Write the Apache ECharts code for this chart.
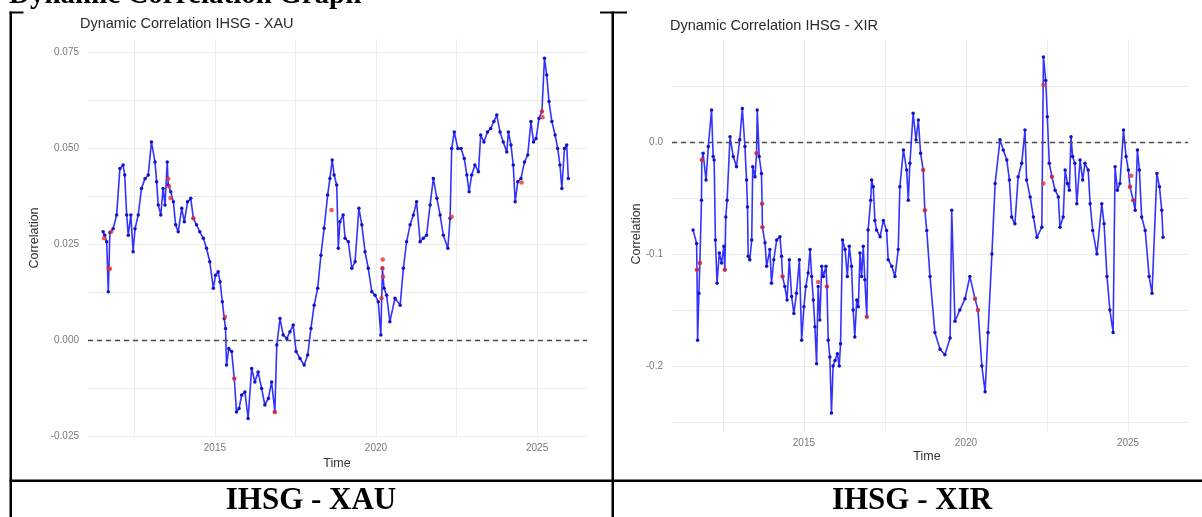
<!DOCTYPE html>
<html>
<head>
<meta charset="utf-8">
<script src="https://cdn.jsdelivr.net/npm/echarts@6.0.0/dist/echarts.min.js"></script>
<style>
html, body { margin: 0; padding: 0; background: #fff; }
#chart { width: 1202px; height: 517px; }
</style>
</head>
<body>
<div id="chart"></div>
<script>
// IHSG - XAU dynamic correlation (decimal years)
const xauYears = [
  2011.53, 2011.58, 2011.64, 2011.69, 2011.71, 2011.74, 2011.84, 2011.95, 2012.05, 2012.15,
  2012.20, 2012.26, 2012.31, 2012.39, 2012.46, 2012.52, 2012.62, 2012.72, 2012.83, 2012.93,
  2013.03, 2013.14, 2013.19, 2013.24, 2013.32, 2013.39, 2013.45, 2013.52, 2013.55, 2013.63,
  2013.71, 2013.78, 2013.86, 2013.97, 2014.05, 2014.15, 2014.25, 2014.33, 2014.43, 2014.53,
  2014.64, 2014.74, 2014.84, 2014.95, 2015.02, 2015.10, 2015.16, 2015.23, 2015.29, 2015.33,
  2015.36, 2015.43, 2015.52, 2015.60, 2015.67, 2015.75, 2015.83, 2015.93, 2016.03, 2016.14,
  2016.24, 2016.34, 2016.45, 2016.55, 2016.66, 2016.76, 2016.86, 2016.92, 2017.02, 2017.12,
  2017.23, 2017.33, 2017.43, 2017.52, 2017.64, 2017.77, 2017.88, 2017.98, 2018.08, 2018.19,
  2018.29, 2018.39, 2018.50, 2018.57, 2018.64, 2018.70, 2018.78, 2018.83, 2018.88, 2018.98,
  2019.04, 2019.14, 2019.25, 2019.35, 2019.47, 2019.56, 2019.66, 2019.76, 2019.87, 2019.97,
  2020.07, 2020.15, 2020.20, 2020.25, 2020.33, 2020.43, 2020.59, 2020.75, 2020.85, 2020.95,
  2021.06, 2021.16, 2021.26, 2021.37, 2021.47, 2021.57, 2021.68, 2021.78, 2021.89, 2021.99,
  2022.09, 2022.23, 2022.30, 2022.35, 2022.43, 2022.54, 2022.64, 2022.74, 2022.82, 2022.89,
  2022.97, 2023.07, 2023.18, 2023.25, 2023.35, 2023.46, 2023.56, 2023.66, 2023.75, 2023.85,
  2023.95, 2024.06, 2024.11, 2024.19, 2024.26, 2024.32, 2024.40, 2024.50, 2024.61, 2024.71,
  2024.81, 2024.89, 2024.97, 2025.06, 2025.15, 2025.23, 2025.30, 2025.37, 2025.46, 2025.56,
  2025.64, 2025.71, 2025.77, 2025.85, 2025.92, 2025.97
]
const xauCorr = [
  0.0282, 0.0273, 0.0256, 0.0126, 0.0186, 0.0280, 0.0290, 0.0326, 0.0447, 0.0456,
  0.0430, 0.0326, 0.0273, 0.0326, 0.0230, 0.0290, 0.0326, 0.0395, 0.0420, 0.0430,
  0.0516, 0.0464, 0.0412, 0.0352, 0.0326, 0.0395, 0.0352, 0.0464, 0.0404, 0.0386,
  0.0360, 0.0300, 0.0282, 0.0343, 0.0308, 0.0360, 0.0369, 0.0317, 0.0300, 0.0282,
  0.0265, 0.0239, 0.0204, 0.0135, 0.0169, 0.0178, 0.0152, 0.0100, 0.0056, 0.0030,
  -0.0065, -0.0022, -0.0030, -0.0100, -0.0187, -0.0178, -0.0143, -0.0135, -0.0204, -0.0074,
  -0.0109, -0.0083, -0.0126, -0.0169, -0.0152, -0.0109, -0.0187, -0.0013, 0.0056, 0.0013,
  0.0004, 0.0022, 0.0039, -0.0030, -0.0048, -0.0065, -0.0039, 0.0030, 0.0091, 0.0135,
  0.0221, 0.0291, 0.0378, 0.0421, 0.0469, 0.0430, 0.0404, 0.0239, 0.0308, 0.0326,
  0.0265, 0.0256, 0.0187, 0.0204, 0.0343, 0.0300, 0.0230, 0.0187, 0.0126, 0.0117,
  0.0100, 0.0013, 0.0187, 0.0135, 0.0117, 0.0048, 0.0109, 0.0091, 0.0187, 0.0256,
  0.0300, 0.0326, 0.0360, 0.0256, 0.0265, 0.0273, 0.0352, 0.0421, 0.0369, 0.0326,
  0.0273, 0.0239, 0.0317, 0.0499, 0.0542, 0.0499, 0.0499, 0.0473, 0.0430, 0.0386,
  0.0430, 0.0456, 0.0438, 0.0534, 0.0516, 0.0542, 0.0551, 0.0569, 0.0586, 0.0542,
  0.0516, 0.0490, 0.0542, 0.0508, 0.0456, 0.0360, 0.0412, 0.0421, 0.0464, 0.0482,
  0.0569, 0.0516, 0.0525, 0.0577, 0.0595, 0.0734, 0.0690, 0.0621, 0.0569, 0.0534,
  0.0499, 0.0456, 0.0395, 0.0499, 0.0508, 0.0421
]
const xauRedYears = [2011.56, 2011.70, 2011.74, 2011.78, 2013.55, 2013.58, 2013.62, 2014.33, 2015.31, 2015.60,
  2016.86, 2018.62, 2020.17, 2020.20, 2020.21, 2020.22, 2022.35, 2024.52, 2025.15, 2025.17]
const xauRedCorr = [0.0265, 0.0186, 0.0186, 0.0282, 0.0420, 0.0400, 0.0370, 0.0317, 0.0061, -0.0100,
  -0.0187, 0.0339, 0.0109, 0.0187, 0.0210, 0.0165, 0.0321, 0.0410, 0.0595, 0.0580]

// IHSG - XIR dynamic correlation
const xirYears = [
  2011.58, 2011.69, 2011.70, 2011.72, 2011.76, 2011.79, 2011.84, 2011.85, 2011.89, 2011.98,
  2012.05, 2012.15, 2012.20, 2012.23, 2012.27, 2012.32, 2012.39, 2012.46, 2012.53, 2012.56,
  2012.59, 2012.63, 2012.72, 2012.82, 2012.92, 2013.02, 2013.10, 2013.18, 2013.23, 2013.26,
  2013.28, 2013.33, 2013.39, 2013.42, 2013.49, 2013.54, 2013.56, 2013.62, 2013.69, 2013.71,
  2013.72, 2013.80, 2013.85, 2013.95, 2014.00, 2014.07, 2014.16, 2014.26, 2014.31, 2014.34,
  2014.41, 2014.48, 2014.55, 2014.62, 2014.69, 2014.77, 2014.86, 2014.93, 2015.00, 2015.06,
  2015.13, 2015.19, 2015.24, 2015.29, 2015.34, 2015.39, 2015.44, 2015.49, 2015.55, 2015.60,
  2015.68, 2015.71, 2015.75, 2015.80, 2015.85, 2015.90, 2015.96, 2016.03, 2016.09, 2016.13,
  2016.19, 2016.27, 2016.34, 2016.40, 2016.47, 2016.52, 2016.57, 2016.63, 2016.68, 2016.73,
  2016.78, 2016.83, 2016.88, 2016.94, 2016.98, 2017.06, 2017.09, 2017.14, 2017.19, 2017.24,
  2017.35, 2017.45, 2017.55, 2017.60, 2017.71, 2017.81, 2017.91, 2017.96, 2018.07, 2018.17,
  2018.22, 2018.27, 2018.37, 2018.46, 2018.53, 2018.60, 2018.68, 2018.73, 2018.79, 2018.89,
  2019.04, 2019.20, 2019.35, 2019.51, 2019.56, 2019.66, 2019.81, 2019.97, 2020.12, 2020.28,
  2020.37, 2020.49, 2020.59, 2020.68, 2020.80, 2020.90, 2021.05, 2021.15, 2021.26, 2021.34,
  2021.41, 2021.51, 2021.61, 2021.72, 2021.82, 2021.87, 2021.98, 2022.08, 2022.19, 2022.34,
  2022.39, 2022.46, 2022.51, 2022.57, 2022.65, 2022.75, 2022.85, 2022.90, 2023.00, 2023.06,
  2023.13, 2023.19, 2023.24, 2023.29, 2023.36, 2023.42, 2023.52, 2023.60, 2023.67, 2023.77,
  2023.83, 2023.91, 2024.04, 2024.19, 2024.26, 2024.35, 2024.44, 2024.54, 2024.60, 2024.67,
  2024.75, 2024.86, 2024.94, 2025.01, 2025.06, 2025.16, 2025.22, 2025.29, 2025.35, 2025.42,
  2025.53, 2025.65, 2025.74, 2025.89, 2025.97, 2026.04, 2026.08
]
const xirCorr = [
  -0.0786, -0.0905, -0.114, -0.177, -0.135, -0.108, -0.052, -0.016, -0.010, -0.034,
  -0.004, 0.0286, -0.013, -0.016, -0.0875, -0.126, -0.099, -0.108, -0.093, -0.114,
  -0.067, -0.052, 0.0048, -0.013, -0.022, 0.002, 0.030, -0.004, -0.034, -0.058,
  -0.102, -0.105, -0.0875, -0.022, -0.031, -0.010, 0.0286, -0.013, -0.028, -0.055,
  -0.076, -0.090, -0.111, -0.096, -0.126, -0.105, -0.0875, -0.0845, -0.102, -0.120,
  -0.129, -0.141, -0.105, -0.138, -0.153, -0.135, -0.105, -0.177, -0.147, -0.129,
  -0.117, -0.096, -0.120, -0.141, -0.165, -0.198, -0.129, -0.159, -0.111, -0.120,
  -0.111, -0.129, -0.177, -0.192, -0.242, -0.200, -0.195, -0.189, -0.200, -0.180,
  -0.0875, -0.096, -0.120, -0.093, -0.111, -0.150, -0.174, -0.141, -0.147, -0.099,
  -0.120, -0.093, -0.123, -0.156, -0.0786, -0.052, -0.034, -0.040, -0.070, -0.0786,
  -0.0845, -0.070, -0.079, -0.105, -0.111, -0.120, -0.096, -0.040, -0.007, -0.025,
  -0.052, -0.019, 0.0256, 0.0018, 0.0196, -0.010, -0.025, -0.061, -0.079, -0.120,
  -0.170, -0.185, -0.190, -0.175, -0.061, -0.160, -0.150, -0.140, -0.120, -0.140,
  -0.150, -0.200, -0.223, -0.170, -0.100, -0.037, 0.002, -0.007, -0.016, -0.034,
  -0.067, -0.073, -0.031, -0.019, 0.0107, -0.034, -0.049, -0.067, -0.085, -0.076,
  0.076, 0.055, 0.0226, -0.019, -0.031, -0.043, -0.049, -0.076, -0.067, -0.025,
  -0.037, -0.043, 0.0048, -0.013, -0.019, -0.055, -0.016, -0.034, -0.019, -0.025,
  -0.055, -0.079, -0.100, -0.055, -0.073, -0.120, -0.150, -0.170, -0.022, -0.043,
  -0.037, 0.0107, -0.013, -0.025, -0.040, -0.052, -0.061, -0.007, -0.025, -0.067,
  -0.079, -0.120, -0.135, -0.028, -0.040, -0.061, -0.085
]
const xirRedYears = [2011.70, 2011.79, 2011.85, 2012.56, 2013.54, 2013.71, 2013.72, 2014.34, 2015.44, 2015.71,
  2016.94, 2018.68, 2018.73, 2020.28, 2020.37, 2022.39, 2022.39, 2022.65, 2025.06, 2025.10, 2025.16]
const xirRedCorr = [-0.114, -0.108, -0.016, -0.114, -0.010, -0.055, -0.076, -0.120, -0.125, -0.129,
  -0.156, -0.025, -0.061, -0.140, -0.150, 0.051, -0.037, -0.031, -0.040, -0.030, -0.052]

// axis ticks and grid positions
const yearTicks = [2015, 2020, 2025]
const yearGrid = [2012.5, 2015, 2017.5, 2020, 2022.5, 2025]
const xauTicks = [-0.025, 0, 0.025, 0.05, 0.075]
const xauGrid = [-0.025, -0.0125, 0, 0.0125, 0.025, 0.0375, 0.05, 0.0625, 0.075]
const xirTicks = [-0.2, -0.1, 0]
const xirGrid = [-0.25, -0.2, -0.15, -0.1, -0.05, 0, 0.05]

const sans = '"Liberation Sans", Arial, sans-serif'
const serif = '"Liberation Serif", "Times New Roman", serif'
const gridColor = '#ededed'
const tickColor = '#7a7a7a'

function pairs(xs, ys) {
  return xs.map((x, i) => [x, ys[i]])
}

function xAxis(gridIndex, min, max, margin) {
  return {
    type: 'value', gridIndex, min, max,
    axisLine: { show: false },
    axisTick: { show: false, customValues: yearGrid },
    axisLabel: { customValues: yearTicks, margin, color: tickColor, fontSize: 10, fontFamily: sans, formatter: v => String(v) },
    splitLine: { show: true, lineStyle: { color: gridColor, width: 1 } }
  }
}

function yAxis(gridIndex, min, max, ticks, grid, digits) {
  return {
    type: 'value', gridIndex, min, max,
    axisLine: { show: false },
    axisTick: { show: false, customValues: grid },
    axisLabel: { customValues: ticks, margin: 9, color: tickColor, fontSize: 10, fontFamily: sans, formatter: v => v.toFixed(digits) },
    splitLine: { show: true, lineStyle: { color: gridColor, width: 1 } }
  }
}

function corrSeries(idx, data) {
  return {
    type: 'line', xAxisIndex: idx, yAxisIndex: idx, data,
    symbol: 'circle', symbolSize: 3.5, showSymbol: true,
    lineStyle: { color: '#3333ff', width: 1.6 },
    itemStyle: { color: '#1212c8' },
    z: 3,
    markLine: {
      silent: true, symbol: ['none', 'none'], label: { show: false },
      lineStyle: { type: [5, 4], color: '#4a4a4a', width: 1.3 },
      data: [{ yAxis: 0 }]
    }
  }
}

function redSeries(idx, data) {
  return {
    type: 'scatter', xAxisIndex: idx, yAxisIndex: idx, data,
    symbolSize: 4.5, itemStyle: { color: '#e8322f' }, z: 4
  }
}

function label(text, x, y, opts) {
  return Object.assign({
    type: 'text', x, y, silent: true,
    style: Object.assign({
      text, fill: '#333', fontFamily: sans, fontSize: 12.5,
      align: 'center', verticalAlign: 'middle', textAlign: 'center', textVerticalAlign: 'middle'
    }, opts && opts.style)
  }, opts && opts.el)
}

function bar(x, y, w, h) {
  return { type: 'rect', silent: true, shape: { x, y, width: w, height: h }, style: { fill: '#000' } }
}

const chart = echarts.init(document.getElementById('chart'))
chart.setOption({
  animation: false,
  backgroundColor: '#fff',
  grid: [
    { left: 88, top: 39, width: 499, height: 399 },
    { left: 672, top: 39, width: 516, height: 392 }
  ],
  xAxis: [
    xAxis(0, 2011.06, 2026.55, 5),
    xAxis(1, 2010.93, 2026.85, 7)
  ],
  yAxis: [
    yAxis(0, -0.0255, 0.0784, xauTicks, xauGrid, 3),
    yAxis(1, -0.258, 0.092, xirTicks, xirGrid, 1)
  ],
  series: [
    corrSeries(0, pairs(xauYears, xauCorr)),
    redSeries(0, pairs(xauRedYears, xauRedCorr)),
    corrSeries(1, pairs(xirYears, xirCorr)),
    redSeries(1, pairs(xirRedYears, xirRedCorr))
  ],
  graphic: {
    elements: [
      // document heading, cut off at the top
      label('Dynamic Correlation Graph', 9, -4, { style: { fontFamily: serif, fontWeight: 'bold', fontSize: 29, fill: '#000', align: 'left', textAlign: 'left' } }),
      // table rules
      bar(9.5, 11.5, 14, 2),
      bar(600, 11.5, 27, 2),
      bar(9.5, 11.5, 2.5, 506),
      bar(611.5, 11.5, 2.5, 506),
      bar(9.5, 479.5, 1193, 2.5),
      // chart titles
      label('Dynamic Correlation IHSG - XAU', 80, 24, { style: { fontSize: 14.5, align: 'left', textAlign: 'left', fill: '#2a2a2a' } }),
      label('Dynamic Correlation IHSG - XIR', 670, 26, { style: { fontSize: 14.5, align: 'left', textAlign: 'left', fill: '#2a2a2a' } }),
      // axis titles
      label('Time', 337, 463.5),
      label('Time', 927, 457),
      label('Correlation', 35, 238, { el: { rotation: Math.PI / 2 } }),
      label('Correlation', 637, 234, { el: { rotation: Math.PI / 2 } }),
      // captions
      label('IHSG - XAU', 311, 501, { style: { fontFamily: serif, fontWeight: 'bold', fontSize: 31, fill: '#000' } }),
      label('IHSG - XIR', 912, 501, { style: { fontFamily: serif, fontWeight: 'bold', fontSize: 31, fill: '#000' } })
    ]
  }
})
</script>
</body>
</html>
